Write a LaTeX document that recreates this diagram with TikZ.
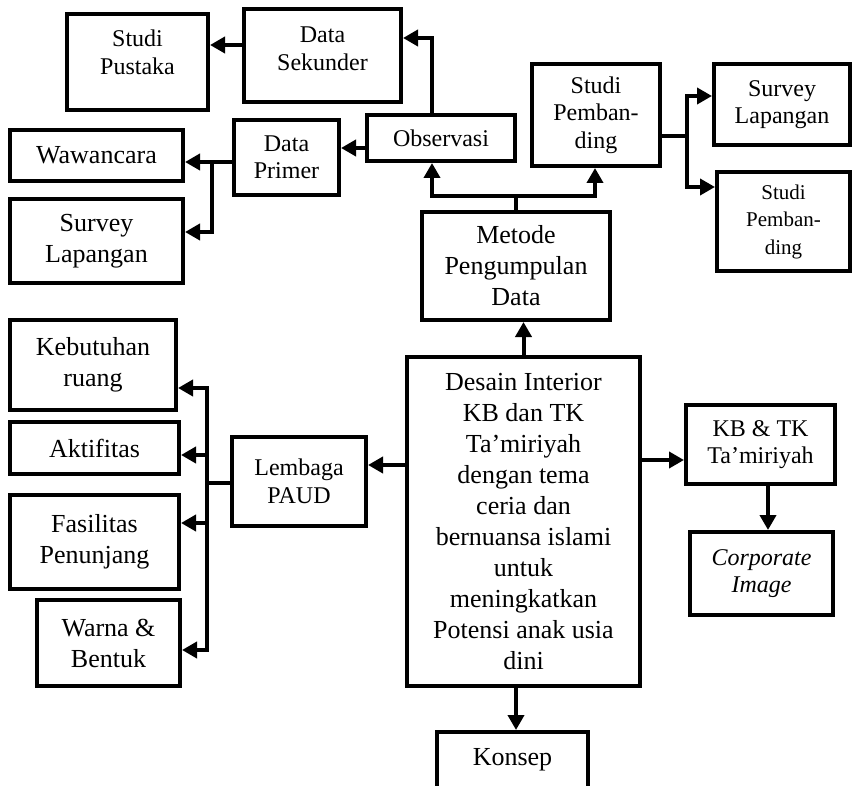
\documentclass[tikz,border=0pt]{standalone}
\usepackage{fontspec}
\setmainfont{Liberation Serif}
\usepackage{tikz}
\usetikzlibrary{positioning, arrows.meta}

\begin{document}
\begin{tikzpicture}[->,>={Triangle[length=7.5pt,width=8pt]},line width=2pt,x=0.5pt,y=-0.5pt,
    box/.style={draw,rectangle,align=center,inner sep=1pt},
    big/.style={font=\fontsize{13}{15.5}\selectfont},
    med/.style={font=\fontsize{12}{13.75}\selectfont},
    small/.style={font=\fontsize{10.5}{13.75}\selectfont}]
    \useasboundingbox (0,0) rectangle (854,785);

    % pengumpulan data
    \node[box,med,minimum width=70.5pt,minimum height=48pt] (pustaka) at (137.5,62) {Studi\\Pustaka\\[-3.75pt]\mbox{}};
    \node[box,med,minimum width=78.5pt,minimum height=46.5pt] (sekunder) at (322.5,55.5) {Data\\Sekunder\\[-6.75pt]\mbox{}};
    \node[box,big,minimum width=86.5pt,minimum height=25.5pt] (wawancara) at (96.5,155.5) {Wawancara};
    \node[box,big,minimum width=86.5pt,minimum height=42pt] (surveyA) at (96.5,241) {Survey\\Lapangan};
    \node[box,med,minimum width=52.5pt,minimum height=37.5pt] (primer) at (286.5,157.5) {Data\\Primer};
    \node[box,med,minimum width=74pt,minimum height=23pt] (observasi) at (441,138) {Observasi};
    \node[box,med,minimum width=64pt,minimum height=51pt] (pembanding) at (596,115) {Studi\\Pemban-\\ding};
    \node[box,med,minimum width=68pt,minimum height=40.5pt] (surveyB) at (782,104.5) {Survey\\Lapangan};
    \node[box,small,minimum width=66.5pt,minimum height=49.5pt] (pembandingB) at (783.5,221.5) {Studi\\Pemban-\\ding};
    \node[box,big,minimum width=94pt,minimum height=54pt] (metode) at (516,266) {Metode\\Pengumpulan\\Data};

    % lembaga
    \node[box,big,minimum width=83pt,minimum height=45pt] (kebutuhan) at (93,365) {Kebutuhan\\ruang};
    \node[box,big,minimum width=84.5pt,minimum height=26pt] (aktifitas) at (94.5,448) {Aktifitas};
    \node[box,big,minimum width=84.5pt,minimum height=47pt] (fasilitas) at (94.5,542) {Fasilitas\\Penunjang};
    \node[box,big,minimum width=71.5pt,minimum height=43pt] (warna) at (108.5,643) {Warna \&\\Bentuk};
    \node[box,med,minimum width=67pt,minimum height=44.5pt] (lembaga) at (299,481.5) {Lembaga\\PAUD};

    % judul
    \node[box,big,minimum width=116.5pt,minimum height=164.5pt] (desain) at (523.5,521.5)
        {Desain Interior\\KB dan TK\\Ta’miriyah\\dengan tema\\ceria dan\\bernuansa islami\\untuk\\meningkatkan\\Potensi anak usia\\dini};
    \node[box,med,minimum width=74.5pt,minimum height=39.5pt] (kbtk) at (760.5,444.5) {KB \& TK\\Ta’miriyah};
    \node[box,med,minimum width=71.5pt,minimum height=41.5pt] (corporate) at (761.5,573.5) {\textit{Corporate}\\\textit{Image}};
    \node[box,big,minimum width=75.5pt,minimum height=28pt] (konsep) at (512.5,760) {Konsep};

    % panah
    \draw (sekunder.west |- 0,45) -- (pustaka.east |- 0,45);
    \draw (observasi.north -| 432,0) |- (sekunder.east |- 0,38);
    \draw (observasi.west |- 0,148) -- (primer.east |- 0,148);
    \draw (primer.west |- 0,162) -- (wawancara.east |- 0,162);
    \draw (primer.west |- 0,162) -| (212,232) -- (surveyA.east |- 0,232);
    \draw (metode.north) |- (432,196) -- (observasi.south -| 432,0);
    \draw (metode.north) |- (595,196) -- (pembanding.south -| 595,0);
    \draw (pembanding.east |- 0,136) -| (687,96) -- (surveyB.west |- 0,96);
    \draw (pembanding.east |- 0,136) -| (687,187) -- (pembandingB.west |- 0,187);
    \draw (desain.north) -- (desain.north |- metode.south);
    \draw (desain.west |- 0,465) -- (lembaga.east |- 0,465);
    \foreach \t/\y in {kebutuhan/388, aktifitas/455, fasilitas/523, warna/650}
        \draw (lembaga.west |- 0,483) -- (207,483) |- (\t.east |- 0,\y);
    \draw (desain.east |- 0,460) -- (kbtk.west |- 0,460);
    \draw (kbtk.south -| 768,0) -- (corporate.north -| 768,0);
    \draw (desain.south -| 516,0) -- (konsep.north -| 516,0);
\end{tikzpicture}
\end{document}
